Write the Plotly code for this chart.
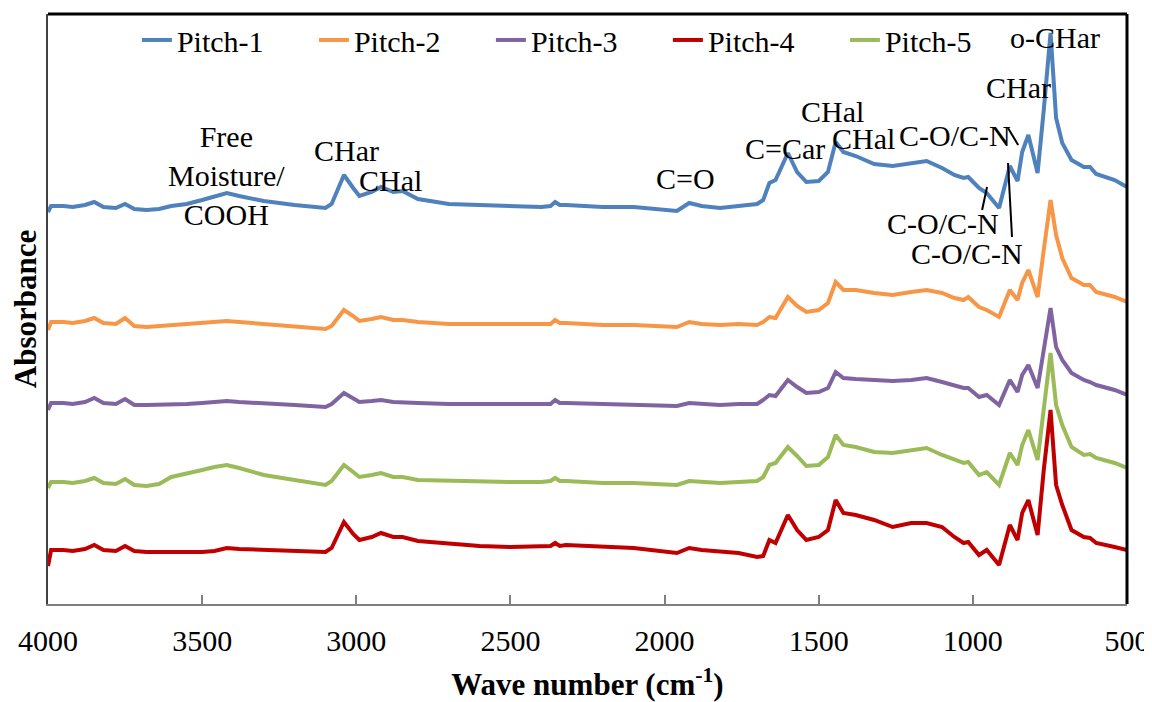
import plotly.graph_objects as go

# Wave numbers (cm-1) shared by all spectra
wavenumber = [4000, 3990, 3950, 3920, 3880, 3850, 3820, 3780, 3750, 3720,
              3680, 3640, 3600, 3550, 3500, 3460, 3420, 3380, 3300, 3200,
              3100, 3080, 3040, 3010, 2990, 2950, 2920, 2880, 2850, 2800,
              2700, 2600, 2500, 2400, 2370, 2355, 2340, 2320, 2200, 2100,
              1960, 1920, 1880, 1820, 1760, 1700, 1680, 1660, 1640, 1600,
              1570, 1540, 1500, 1470, 1445, 1420, 1380, 1320, 1260, 1200,
              1150, 1100, 1060, 1030, 1015, 980, 955, 915, 880, 855,
              840, 820, 790, 770, 748, 730, 710, 680, 640, 620,
              600, 540, 500]

pitch1 = [3.92, 3.98, 3.98, 3.97, 3.99, 4.02, 3.97, 3.96, 4.00, 3.95,
          3.94, 3.95, 3.98, 4.00, 4.04, 4.07, 4.11, 4.08, 4.03, 3.99,
          3.96, 4.00, 4.29, 4.16, 4.08, 4.12, 4.17, 4.12, 4.13, 4.05,
          4.00, 3.99, 3.98, 3.97, 3.98, 4.02, 3.99, 3.99, 3.97, 3.97,
          3.93, 4.01, 3.98, 3.96, 3.98, 4.00, 4.04, 4.21, 4.24, 4.51,
          4.32, 4.22, 4.23, 4.32, 4.62, 4.52, 4.48, 4.40, 4.38, 4.41,
          4.43, 4.36, 4.29, 4.26, 4.27, 4.16, 4.11, 3.96, 4.38, 4.23,
          4.52, 4.69, 4.31, 4.94, 5.71, 4.86, 4.61, 4.44, 4.37, 4.37,
          4.30, 4.24, 4.17]

pitch2 = [2.74, 2.82, 2.82, 2.81, 2.83, 2.86, 2.81, 2.80, 2.86, 2.78,
          2.77, 2.78, 2.79, 2.80, 2.81, 2.82, 2.83, 2.82, 2.80, 2.78,
          2.75, 2.78, 2.94, 2.88, 2.83, 2.85, 2.87, 2.84, 2.84, 2.82,
          2.80, 2.80, 2.80, 2.79, 2.80, 2.84, 2.81, 2.81, 2.79, 2.79,
          2.77, 2.82, 2.80, 2.79, 2.80, 2.79, 2.82, 2.87, 2.86, 3.07,
          2.98, 2.92, 2.94, 3.01, 3.22, 3.14, 3.14, 3.11, 3.09, 3.12,
          3.14, 3.11, 3.06, 3.04, 3.07, 2.97, 2.94, 2.87, 3.14, 3.04,
          3.21, 3.34, 3.07, 3.54, 4.04, 3.69, 3.46, 3.26, 3.19, 3.19,
          3.12, 3.07, 3.02]

pitch3 = [1.94, 2.01, 2.01, 2.00, 2.02, 2.06, 2.01, 2.00, 2.05, 1.99,
          1.99, 1.99, 2.00, 2.00, 2.01, 2.02, 2.03, 2.02, 2.01, 1.99,
          1.97, 2.00, 2.11, 2.06, 2.02, 2.03, 2.04, 2.02, 2.02, 2.01,
          2.00, 2.00, 2.00, 2.00, 2.00, 2.04, 2.01, 2.01, 2.00, 2.00,
          1.98, 2.01, 2.00, 1.99, 2.00, 2.00, 2.04, 2.09, 2.08, 2.24,
          2.17, 2.11, 2.12, 2.16, 2.32, 2.26, 2.25, 2.24, 2.23, 2.24,
          2.26, 2.22, 2.18, 2.16, 2.16, 2.07, 2.09, 1.99, 2.24, 2.12,
          2.29, 2.39, 2.16, 2.54, 2.96, 2.57, 2.44, 2.31, 2.24, 2.22,
          2.19, 2.14, 2.09]

pitch4 = [0.38, 0.54, 0.54, 0.53, 0.55, 0.59, 0.54, 0.53, 0.58, 0.53,
          0.52, 0.52, 0.52, 0.51, 0.52, 0.53, 0.56, 0.55, 0.54, 0.53,
          0.52, 0.56, 0.82, 0.70, 0.64, 0.67, 0.71, 0.67, 0.67, 0.63,
          0.60, 0.58, 0.57, 0.57, 0.58, 0.61, 0.58, 0.59, 0.57, 0.56,
          0.51, 0.56, 0.54, 0.53, 0.51, 0.47, 0.48, 0.64, 0.61, 0.89,
          0.74, 0.64, 0.67, 0.74, 1.04, 0.91, 0.89, 0.84, 0.77, 0.81,
          0.81, 0.77, 0.67, 0.61, 0.62, 0.49, 0.54, 0.39, 0.79, 0.64,
          0.91, 1.04, 0.69, 1.34, 1.94, 1.19, 0.99, 0.74, 0.67, 0.66,
          0.61, 0.57, 0.54]

pitch5 = [1.16, 1.22, 1.22, 1.21, 1.23, 1.26, 1.21, 1.20, 1.25, 1.19,
          1.18, 1.20, 1.27, 1.30, 1.34, 1.37, 1.39, 1.36, 1.29, 1.24,
          1.19, 1.23, 1.39, 1.32, 1.27, 1.29, 1.31, 1.27, 1.27, 1.24,
          1.23, 1.22, 1.22, 1.22, 1.23, 1.26, 1.23, 1.23, 1.21, 1.21,
          1.19, 1.23, 1.22, 1.21, 1.22, 1.23, 1.27, 1.39, 1.41, 1.57,
          1.48, 1.38, 1.39, 1.47, 1.69, 1.59, 1.57, 1.52, 1.51, 1.54,
          1.56, 1.49, 1.44, 1.41, 1.42, 1.29, 1.32, 1.19, 1.51, 1.39,
          1.59, 1.74, 1.44, 1.94, 2.51, 1.99, 1.79, 1.57, 1.49, 1.50,
          1.46, 1.41, 1.36]

series_names = ["Pitch-1", "Pitch-2", "Pitch-3", "Pitch-4", "Pitch-5"]
series_values = [pitch1, pitch2, pitch3, pitch4, pitch5]
series_colors = ["#4F81BD", "#F79646", "#8064A2", "#C00000", "#9BBB59"]

x_ticks = [4000, 3500, 3000, 2500, 2000, 1500, 1000, 500]

# Band labels: (text, wave number, absorbance position)
band_labels = [
    ("Free<br>Moisture/<br>COOH", 3421, 4.29),
    ("CHar", 3032, 4.54),
    ("CHal", 2890, 4.24),
    ("C=O", 1933, 4.26),
    ("C=Car", 1609, 4.56),
    ("CHal", 1456, 4.93),
    ("CHal", 1356, 4.66),
    ("C-O/C-N", 1058, 4.69),
    ("CHar", 853, 5.17),
    ("o-CHar", 733, 5.67),
    ("C-O/C-N", 1097, 3.81),
    ("C-O/C-N", 1019, 3.51),
]
# Leader lines: (x0, y0, x1, y1) in data units
leader_lines = [
    (886, 4.76, 853, 4.59),
    (954, 4.17, 970, 3.94),
    (886, 4.41, 873, 3.67),
]

FONT = "Times New Roman, Liberation Serif, serif"

fig = go.Figure()
for name, vals, col in zip(series_names, series_values, series_colors):
    fig.add_trace(go.Scatter(x=wavenumber, y=vals, mode="lines", name=name,
                             line=dict(color=col, width=4)))

for txt, xv, yv in band_labels:
    fig.add_annotation(x=xv, y=yv, text=txt, showarrow=False,
                       xanchor="center", yanchor="middle",
                       font=dict(family=FONT, size=30, color="black"))

for x0, y0, x1, y1 in leader_lines:
    fig.add_shape(type="line", x0=x0, y0=y0, x1=x1, y1=y1, xref="x", yref="y",
                  line=dict(color="black", width=2))

# top and right frame lines
fig.add_shape(type="line", xref="paper", yref="paper", x0=0, y0=1, x1=1, y1=1,
              line=dict(color="black", width=3))
fig.add_shape(type="line", xref="paper", yref="paper", x0=1, y0=0, x1=1, y1=1,
              line=dict(color="black", width=3))

fig.update_layout(
    width=1144, height=694,
    paper_bgcolor="white", plot_bgcolor="white",
    margin=dict(l=39.5, r=25, t=6, b=98, autoexpand=False),
    font=dict(family=FONT, size=30, color="black"),
    showlegend=True,
    legend=dict(orientation="h", x=0.0824, y=0.956, xanchor="left", yanchor="middle",
                font=dict(family=FONT, size=30, color="black"),
                entrywidth=132, entrywidthmode="pixels",
                bgcolor="rgba(0,0,0,0)", tracegroupgap=0),
    xaxis=dict(range=[4000, 500], tickvals=x_ticks, ticks="inside", ticklen=9,
               tickcolor="#808080", tickwidth=1.5, automargin=False,
               ticklabelstandoff=9,
               showline=True, linecolor="#7f7f7f", linewidth=2,
               showgrid=False, zeroline=False,
               tickfont=dict(family=FONT, size=30, color="black"),
               title=dict(text="<b>Wave number (cm<sup>-1</sup>)</b>",
                          font=dict(family=FONT, size=31, color="black"),
                          standoff=19)),
    yaxis=dict(range=[0, 5.9], showticklabels=False, ticks="", automargin=False,
               showline=True, linecolor="#404040", linewidth=2,
               showgrid=False, zeroline=False,
               title=dict(text="<b>Absorbance</b>",
                          font=dict(family=FONT, size=31, color="black"),
                          standoff=4)),
)

fig.write_html("out.html")
